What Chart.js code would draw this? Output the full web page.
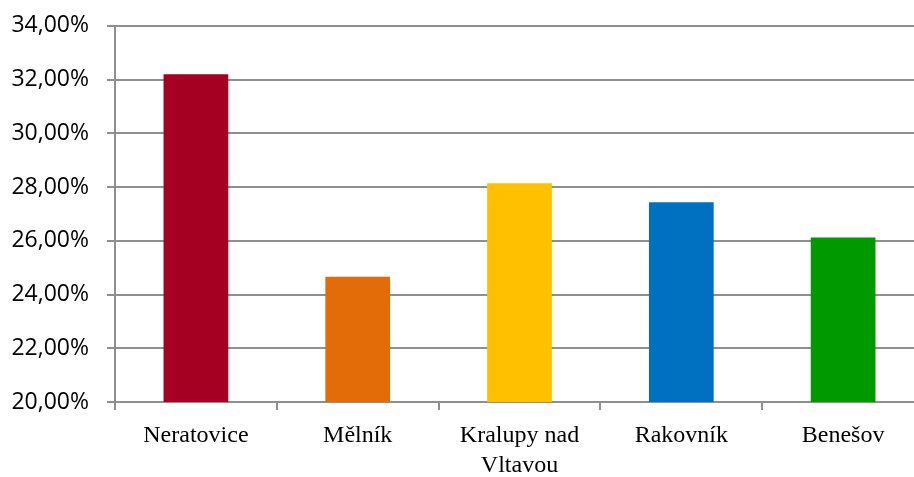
<!DOCTYPE html>
<html>
<head>
<meta charset="utf-8">
<script src="https://cdn.jsdelivr.net/npm/chart.js@4"></script>
<style>
  html, body { margin: 0; padding: 0; background: #fff; overflow: hidden; }
  #wrap { position: relative; width: 934px; height: 483px; margin-top: -6px; }
</style>
</head>
<body>
<div id="wrap"><canvas id="graph"></canvas></div>
<script>
// Data
const mesta = ['Neratovice', 'Mělník', ['Kralupy nad', 'Vltavou'], 'Rakovník', 'Benešov'];
const hodnoty = [32.20, 24.66, 28.14, 27.43, 26.12];
const barvy = ['#A50021', '#E36C09', '#FFC000', '#0070C0', '#009900'];
const osaMin = 20;
const osaMax = 34;
const osaKrok = 2;

const mrizka = '#8f8f8f';

const ctx = document.getElementById('graph').getContext('2d');

const myChart = new Chart(ctx, {
    type: 'bar',
    data: {
        labels: mesta,
        datasets: [{
            data: hodnoty,
            backgroundColor: barvy,
            borderWidth: 0,
            barPercentage: 0.4,
            categoryPercentage: 1
        }]
    },
    options: {
        responsive: true,
        maintainAspectRatio: false,
        animation: false,
        layout: { padding: { top: 21, right: 10, left: 0, bottom: 0 } },
        plugins: {
            legend: { display: false },
            tooltip: { enabled: false }
        },
        scales: {
            x: {
                offset: true,
                grid: {
                    offset: true,
                    drawOnChartArea: false,
                    drawTicks: true,
                    tickLength: 8,
                    color: mrizka,
                    lineWidth: 2
                },
                border: { display: true, color: mrizka, width: 2 },
                ticks: {
                    color: '#000',
                    padding: 11,
                    maxRotation: 0,
                    autoSkip: false,
                    font: { family: '"Liberation Serif", "Times New Roman", serif', size: 24, lineHeight: 1.25 }
                },
                afterFit: (axis) => { axis.height = 75; }
            },
            y: {
                min: osaMin,
                max: osaMax,
                grid: {
                    color: mrizka,
                    lineWidth: 2,
                    tickLength: 8
                },
                border: { display: true, color: mrizka, width: 2 },
                ticks: {
                    stepSize: osaKrok,
                    color: '#000',
                    padding: 18,
                    font: { family: '"Open Sans", sans-serif', size: 23 },
                    callback: (v) => v.toFixed(2).replace('.', ',') + '%'
                },
                afterFit: (axis) => { axis.width = 115; }
            }
        }
    }
});
</script>
</body>
</html>
